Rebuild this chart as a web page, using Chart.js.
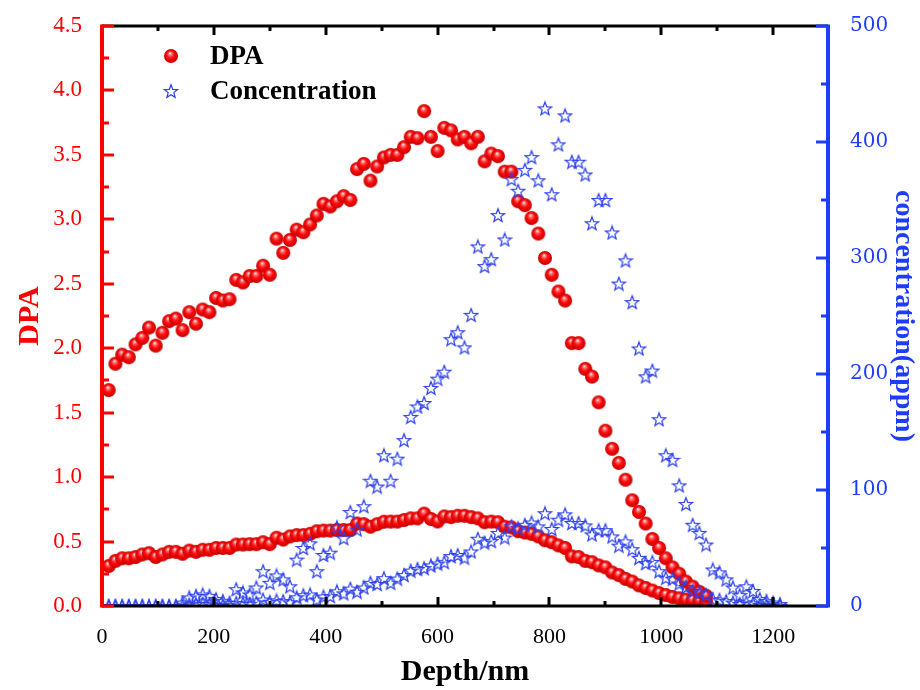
<!DOCTYPE html>
<html>
<head>
<meta charset="utf-8">
<title>DPA / Concentration vs Depth</title>
<script src="https://cdn.jsdelivr.net/npm/chart.js@4.4.0/dist/chart.umd.min.js"></script>
<style>
    html, body { margin: 0; padding: 0; background: #ffffff; }
    #wrap { width: 920px; height: 690px; }
</style>
</head>
<body>
<div id="wrap"><canvas id="depthChart" width="920" height="690"></canvas></div>
<script>
// depth bins (nm), shared by all four profiles
const depth = [
    12, 24, 36, 48, 60, 72, 84, 96, 108, 120,
    132, 144, 156, 168, 180, 192, 204, 216, 228, 240,
    252, 264, 276, 288, 300, 312, 324, 336, 348, 360,
    372, 384, 396, 408, 420, 432, 444, 456, 468, 480,
    492, 504, 516, 528, 540, 552, 564, 576, 588, 600,
    612, 624, 636, 648, 660, 672, 684, 696, 708, 720,
    732, 744, 756, 768, 780, 792, 804, 816, 828, 840,
    852, 864, 876, 888, 900, 912, 924, 936, 948, 960,
    972, 984, 996, 1008, 1020, 1032, 1044, 1056, 1068, 1080,
    1092, 1104, 1116, 1128, 1140, 1152, 1164, 1176, 1188, 1200,
    1212
];

// DPA, high-fluence profile
const dpaHigh = [
    1.675, 1.88, 1.95, 1.93, 2.03, 2.08, 2.16, 2.02, 2.12, 2.21,
    2.23, 2.14, 2.28, 2.19, 2.30, 2.28, 2.39, 2.37, 2.38, 2.53,
    2.51, 2.56, 2.56, 2.64, 2.57, 2.85, 2.74, 2.84, 2.92, 2.90,
    2.96, 3.03, 3.12, 3.10, 3.14, 3.18, 3.15, 3.39, 3.43, 3.30,
    3.41, 3.48, 3.50, 3.50, 3.56, 3.64, 3.63, 3.84, 3.64, 3.53,
    3.71, 3.69, 3.62, 3.64, 3.59, 3.64, 3.45, 3.51, 3.49, 3.37,
    3.37, 3.14, 3.11, 3.01, 2.89, 2.70, 2.57, 2.44, 2.37, 2.04,
    2.04, 1.84, 1.78, 1.58, 1.36, 1.22, 1.11, 0.98, 0.82, 0.73,
    0.64, 0.52, 0.45, 0.37, 0.30, 0.25, 0.19, 0.15, 0.11, 0.08
];

// DPA, low-fluence profile
const dpaLow = [
    0.31, 0.35, 0.37, 0.37, 0.38, 0.40, 0.41, 0.38, 0.40, 0.42,
    0.42, 0.405, 0.43, 0.42, 0.436, 0.436, 0.45, 0.45, 0.45, 0.477,
    0.477, 0.48, 0.48, 0.495, 0.48, 0.53, 0.515, 0.54, 0.55, 0.55,
    0.56, 0.58, 0.585, 0.585, 0.59, 0.59, 0.59, 0.64, 0.635, 0.615,
    0.635, 0.654, 0.655, 0.655, 0.667, 0.68, 0.68, 0.717, 0.675, 0.656,
    0.695, 0.69, 0.70, 0.70, 0.69, 0.68, 0.65, 0.655, 0.65, 0.615,
    0.61, 0.58, 0.57, 0.56, 0.54, 0.51, 0.495, 0.47, 0.45, 0.385,
    0.38, 0.35, 0.34, 0.315, 0.30, 0.26, 0.24, 0.21, 0.19, 0.16,
    0.14, 0.12, 0.10, 0.085, 0.07, 0.06, 0.05, 0.045, 0.04, 0.035
];

// He concentration (appm), high-fluence profile
const concHigh = [
    0, 0, 0, 0, 0, 0, 0, 0, 0, 0,
    0, 3, 7.4, 8.8, 10, 8.8, 6, 4.5, 3, 14.5,
    11.7, 10, 16, 30, 20, 26.4, 23, 17, 40, 50,
    54, 30, 44, 46, 68, 58.5, 81, 66, 86, 108,
    103, 130, 108, 127, 143, 163, 172, 175, 188, 196,
    202, 230, 236, 223, 251, 310, 293, 299, 337, 316,
    368, 358, 376, 387, 367, 429, 355, 398, 423, 383,
    383, 372, 330, 350, 350, 322, 278, 298, 262, 222,
    198, 203, 161, 130, 126, 104, 88, 70, 63, 53,
    31.5, 29, 23, 16, 9.4, 17, 13, 6, 4.5, 3,
    1.7
];

// He concentration (appm), low-fluence profile
const concLow = [
    0, 0, 0, 0, 0, 0, 0, 0, 0, 0,
    0, 0.5, 1.4, 1.6, 1.9, 1.6, 1.1, 0.8, 0.6, 2.7,
    2.2, 1.9, 3, 5.6, 3.7, 4.9, 4.3, 3.2, 7.5, 9.3,
    10, 5.6, 8.2, 8.6, 12.7, 10.9, 15, 12.3, 16, 20,
    19, 24, 20, 23.7, 26.7, 30.5, 32, 32.7, 35, 36.6,
    37.8, 43, 44, 41.7, 47, 58, 54.7, 56, 63, 59,
    68.8, 67, 70, 72, 68.6, 80, 66.4, 74.4, 79, 71.6,
    71.6, 69.5, 61.7, 65.4, 65.4, 60, 52, 55.7, 49, 41.5,
    37, 38, 30, 24.3, 23.5, 19.4, 16.4, 13, 11.8, 9.9,
    5.9, 5.4, 4.3, 3, 1.8, 3.2, 2.4, 1.1, 0.8, 0.6,
    0.3
];

// tick labels
const xTicks = [0, 200, 400, 600, 800, 1000, 1200];
const dpaTicks = [0, 0.5, 1.0, 1.5, 2.0, 2.5, 3.0, 3.5, 4.0, 4.5];
const concTicks = [0, 100, 200, 300, 400, 500];

const RED = '#ff0000';
const BLUE = '#1e3cff';
const SERIF = '"Liberation Serif", "Times New Roman", serif';

function toPoints(values) {
    return values.map(function(v, i) { return { x: depth[i], y: v }; });
}

// shaded red ball marker
function makeSphere(r) {
    var c = document.createElement('canvas');
    c.width = c.height = 2 * r + 2;
    var g = c.getContext('2d');
    var cx = r + 1, cy = r + 1;
    var grad = g.createRadialGradient(cx - r * 0.15, cy - r * 0.4, r * 0.05, cx, cy, r);
    grad.addColorStop(0, '#ffeaea');
    grad.addColorStop(0.2, '#ff7070');
    grad.addColorStop(0.5, '#ff0c0c');
    grad.addColorStop(1, '#c40000');
    g.fillStyle = grad;
    g.beginPath();
    g.arc(cx, cy, r, 0, Math.PI * 2);
    g.fill();
    return c;
}

// hollow five-point star marker
function makeStar(R) {
    var c = document.createElement('canvas');
    var s = 2 * R + 2;
    c.width = c.height = s;
    var g = c.getContext('2d');
    var cx = s / 2, cy = s / 2 + R * 0.1;
    g.beginPath();
    for (var k = 0; k < 10; k++) {
        var rad = k % 2 === 0 ? R : R * 0.42;
        var a = -Math.PI / 2 + k * Math.PI / 5;
        var px = cx + rad * Math.cos(a), py = cy + rad * Math.sin(a);
        if (k === 0) g.moveTo(px, py); else g.lineTo(px, py);
    }
    g.closePath();
    g.strokeStyle = '#2c40f0';
    g.lineWidth = 1.2;
    g.stroke();
    return c;
}

const sphere = makeSphere(7);
const star = makeStar(7);

// frame with inward tick marks, coloured per axis
const frameAxes = {
    id: 'frameAxes',
    afterDatasetsDraw: function(chart) {
        var ctx = chart.ctx, a = chart.chartArea;
        var sx = chart.scales.x, sy = chart.scales.y, sy2 = chart.scales.y2;
        function seg(x1, y1, x2, y2) {
            ctx.beginPath(); ctx.moveTo(x1, y1); ctx.lineTo(x2, y2); ctx.stroke();
        }
        ctx.save();
        ctx.lineCap = 'butt';

        ctx.strokeStyle = '#000';
        ctx.lineWidth = 3;
        seg(a.left, a.top, a.right, a.top);
        seg(a.left, a.bottom, a.right, a.bottom);
        for (var v = 100; v <= 1200; v += 100) {
            var px = Math.round(sx.getPixelForValue(v));
            var len = v % 200 === 0 ? 9 : 5;
            seg(px, a.bottom, px, a.bottom - len);
            seg(px, a.top, px, a.top + len);
        }

        ctx.strokeStyle = RED;
        ctx.lineWidth = 4;
        seg(a.left, a.top - 1.5, a.left, a.bottom + 1.5);
        ctx.lineWidth = 3;
        for (var i = 0; i <= 18; i++) {
            var py = Math.round(sy.getPixelForValue(i * 0.25));
            seg(a.left, py, a.left + (i % 2 === 0 ? 12 : 7), py);
        }

        ctx.strokeStyle = BLUE;
        ctx.lineWidth = 4;
        seg(a.right, a.top - 1.5, a.right, a.bottom + 1.5);
        ctx.lineWidth = 3;
        for (var j = 0; j <= 10; j++) {
            var py2 = Math.round(sy2.getPixelForValue(j * 50));
            seg(a.right, py2, a.right - (j % 2 === 0 ? 12 : 7), py2);
        }
        ctx.restore();
    }
};

// legend drawn inside the plot, upper left
const insetLegend = {
    id: 'insetLegend',
    afterDraw: function(chart) {
        var ctx = chart.ctx;
        ctx.save();
        ctx.drawImage(sphere, 171 - sphere.width / 2, 56 - sphere.height / 2);
        ctx.drawImage(star, 171 - star.width / 2, 91 - star.height / 2);
        ctx.fillStyle = '#000';
        ctx.font = 'bold 27px ' + SERIF;
        ctx.textBaseline = 'middle';
        ctx.fillText('DPA', 210, 57);
        ctx.fillText('Concentration', 210, 92);
        ctx.restore();
    }
};

function fixedTicks(list) {
    return function(scale) {
        scale.ticks = list.map(function(v) { return { value: v }; });
    };
}

const starSet = {
    type: 'scatter',
    pointStyle: star,
    pointRadius: 7,
    showLine: false,
    yAxisID: 'y2',
    order: 1
};
const sphereSet = {
    type: 'scatter',
    pointStyle: sphere,
    pointRadius: 7,
    showLine: false,
    yAxisID: 'y',
    order: 2
};

new Chart(document.getElementById('depthChart'), {
    type: 'scatter',
    data: {
        datasets: [
            Object.assign({ label: 'Concentration', data: toPoints(concHigh) }, starSet),
            Object.assign({ label: 'Concentration low', data: toPoints(concLow) }, starSet),
            Object.assign({ label: 'DPA', data: toPoints(dpaHigh) }, sphereSet),
            Object.assign({ label: 'DPA low', data: toPoints(dpaLow) }, sphereSet)
        ]
    },
    options: {
        responsive: false,
        animation: false,
        devicePixelRatio: 1,
        events: [],
        layout: { padding: { top: 21, left: 0, right: 0, bottom: 0 } },
        plugins: {
            legend: { display: false },
            tooltip: { enabled: false }
        },
        scales: {
            x: {
                type: 'linear',
                position: 'bottom',
                min: 0,
                max: 1298,
                afterBuildTicks: fixedTicks(xTicks),
                afterFit: function(s) { s.height = 84; },
                grid: { display: false },
                border: { display: false },
                ticks: {
                    color: '#000',
                    padding: 10,
                    maxRotation: 0,
                    autoSkip: false,
                    font: { family: SERIF, size: 22 },
                    callback: function(v) { return String(v); }
                },
                title: {
                    display: true,
                    text: 'Depth/nm',
                    color: '#000',
                    padding: { top: 0, bottom: 0 },
                    font: { family: SERIF, size: 30, weight: 'bold' }
                }
            },
            y: {
                type: 'linear',
                position: 'left',
                min: 0,
                max: 4.5,
                afterBuildTicks: fixedTicks(dpaTicks),
                afterFit: function(s) { s.width = 102; },
                grid: { display: false },
                border: { display: false },
                ticks: {
                    color: RED,
                    padding: 12,
                    autoSkip: false,
                    font: { family: SERIF, size: 23 },
                    callback: function(v) { return Number(v).toFixed(1); }
                },
                title: {
                    display: true,
                    text: 'DPA',
                    color: RED,
                    padding: { top: 12, bottom: 0 },
                    font: { family: SERIF, size: 30, weight: 'bold' }
                }
            },
            y2: {
                type: 'linear',
                position: 'right',
                min: 0,
                max: 500,
                afterBuildTicks: fixedTicks(concTicks),
                afterFit: function(s) { s.width = 92; },
                grid: { display: false },
                border: { display: false },
                ticks: {
                    color: BLUE,
                    padding: 14,
                    autoSkip: false,
                    font: { family: '"DejaVu Serif", serif', size: 20 },
                    callback: function(v) { return String(v); }
                },
                title: {
                    display: true,
                    text: 'concentration(appm)',
                    color: BLUE,
                    padding: { top: 0, bottom: 0 },
                    font: { family: SERIF, size: 28, weight: 'bold' }
                }
            }
        }
    },
    plugins: [frameAxes, insetLegend]
});
</script>
</body>
</html>
